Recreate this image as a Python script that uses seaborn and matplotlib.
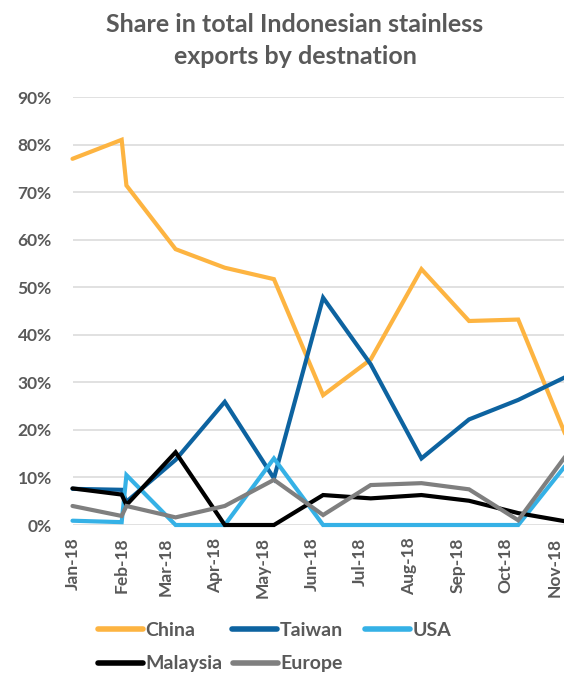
import numpy as np
import pandas as pd
import matplotlib
matplotlib.use("Agg")
import matplotlib.pyplot as plt
import matplotlib.dates as mdates
from matplotlib.ticker import PercentFormatter
import seaborn as sns

# ---- data (share of total exports, %) ----
dates = ["2018-01-01", "2018-02-01", "2018-02-04", "2018-03-07", "2018-04-07", "2018-05-08",
         "2018-06-08", "2018-07-08", "2018-08-09", "2018-09-08", "2018-10-09", "2018-11-09"]
china = [77.0, 81.0, 71.4, 58.0, 54.1, 51.7, 27.3, 34.8, 53.8, 42.9, 43.2, 18.0]
taiwan = [7.6, 7.4, 4.9, 13.7, 25.9, 9.8, 47.8, 33.8, 14.0, 22.2, 26.3, 31.3]
usa = [0.9, 0.6, 10.5, 0.0, 0.0, 14.0, 0.0, 0.0, 0.0, 0.0, 0.0, 13.0]
malaysia = [7.7, 6.4, 4.2, 15.3, 0.0, 0.0, 6.3, 5.6, 6.3, 5.1, 2.5, 0.7]
europe = [4.0, 1.9, 4.0, 1.6, 4.0, 9.5, 2.1, 8.4, 8.8, 7.5, 1.0, 15.0]

countries = ["China", "Taiwan", "USA", "Malaysia", "Europe"]
series = [china, taiwan, usa, malaysia, europe]
colors = ["#FDB441", "#0D63A0", "#35B1E6", "#000000", "#7F7F7F"]

df = pd.concat(
    [pd.DataFrame({"date": pd.to_datetime(dates), "share": vals, "country": name})
     for name, vals in zip(countries, series)],
    ignore_index=True,
)

sns.set_theme(style="white")
plt.rcParams["font.family"] = ["Lato", "DejaVu Sans"]
TXT = "#595959"

W, H = 564, 675
fig = plt.figure(figsize=(W / 100, H / 100), dpi=100)
ax = fig.add_axes([72.5 / W, 1 - 525 / H, 512 / W, (525 - 97) / H])

sns.lineplot(data=df, x="date", y="share", hue="country", hue_order=countries,
             palette=dict(zip(countries, colors)), linewidth=3.0, estimator=None,
             ax=ax, legend=True)
for ln in ax.get_lines():
    ln.set_clip_on(False)
    ln.set_solid_joinstyle("miter")

start = mdates.date2num(pd.Timestamp("2018-01-01"))
ax.set_xlim(start, start + 322.8)
ax.set_ylim(0, 90)
ax.set_yticks(np.arange(0, 91, 10))
ax.yaxis.set_major_formatter(PercentFormatter(100, decimals=0))
ax.xaxis.set_major_locator(mdates.MonthLocator())
ax.xaxis.set_major_formatter(mdates.DateFormatter("%b-%y"))
ax.grid(axis="y", color="#D9D9D9", linewidth=1.1)
ax.grid(axis="x", visible=False)
ax.set_axisbelow(True)
for s in ax.spines.values():
    s.set_visible(False)
ax.set_xlabel("")
ax.set_ylabel("")
ax.tick_params(axis="both", length=0, colors=TXT)
ax.tick_params(axis="y", pad=15, labelsize=12.5)
ax.tick_params(axis="x", pad=9, labelsize=12.5, labelrotation=90)
for lab in ax.get_xticklabels() + ax.get_yticklabels():
    lab.set_fontweight("bold")
    lab.set_color(TXT)

handles, labels = ax.get_legend_handles_labels()
ax.legend_.remove()
for h in handles:
    h.set_linewidth(4)
hmap = dict(zip(labels, handles))
# legend entries laid out as in the reference: two rows
slots = {"China": (98, 630), "Taiwan": (232, 630), "USA": (365, 630),
         "Malaysia": (98, 664), "Europe": (233, 664)}
for name in countries:
    x, y = slots[name]
    leg = fig.legend([hmap[name]], [name], loc="center left",
                     bbox_to_anchor=(x / W, 1 - y / H), frameon=False,
                     borderpad=0, borderaxespad=0,
                     handlelength=2.3, handletextpad=0.15,
                     prop={"weight": "bold", "size": 14})
    for t in leg.get_texts():
        t.set_color(TXT)

fig.text(295 / W, 1 - 32 / H, "Share in total Indonesian stainless", ha="center",
         va="baseline", fontsize=18, fontweight="bold", color=TXT)
fig.text(295 / W, 1 - 64 / H, "exports by destnation", ha="center",
         va="baseline", fontsize=18, fontweight="bold", color=TXT)

fig.savefig("out.png", dpi=100)
